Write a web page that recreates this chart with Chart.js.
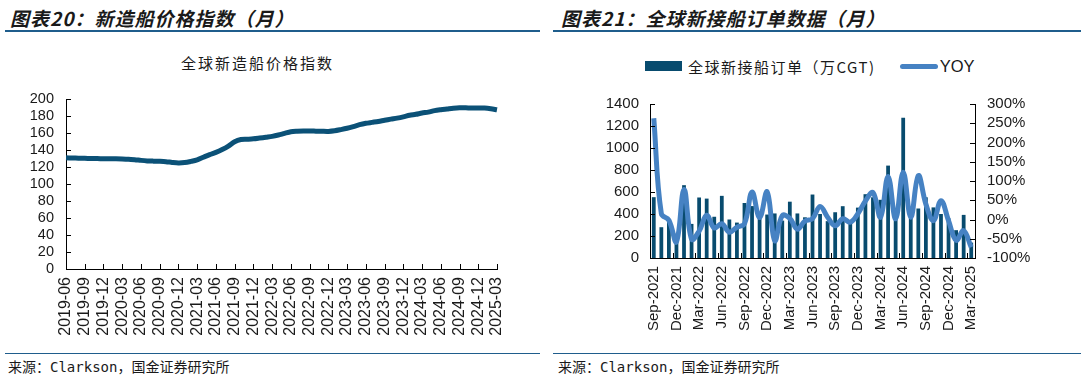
<!DOCTYPE html>
<html>
<head>
<meta charset="utf-8">
<script src="https://cdn.jsdelivr.net/npm/chart.js@4.4.1/dist/chart.umd.min.js"></script>
<style>
  body { margin: 0; background: #fff; width: 1086px; height: 378px; overflow: hidden; position: relative; font-family: "Liberation Sans", Arial, sans-serif; }
  .hdr { position: absolute; top: 4px; font-family: "Noto Sans CJK SC", sans-serif; font-weight: 700; font-style: italic; font-size: 19px; color: #1a1a1a; letter-spacing: 1px; }
  .hline { position: absolute; top: 30px; height: 2px; background: #1f5d8c; }
  .fline { position: absolute; top: 353px; height: 1px; background: #1f5d8c; }
  .src { position: absolute; top: 356px; font-family: "DejaVu Sans Mono", "Noto Sans CJK SC", monospace; font-size: 14px; color: #1a1a1a; }
  .ctitle { position: absolute; top: 52px; left: 0; width: 515px; text-align: center; font-family: "Noto Sans CJK SC", sans-serif; font-size: 15px; letter-spacing: 2px; color: #1a1a1a; }
  .chart { position: absolute; top: 40px; }
  .legend { position: absolute; top: 55px; left: 645px; height: 22px; display: flex; align-items: center; color: #1a1a1a; }
  .sw-bar { width: 37px; height: 10px; background: #084b6e; margin-right: 6px; }
  .sw-line { width: 38px; height: 5px; border-radius: 3px; background: #4682c3; margin-left: 24px; margin-right: 2px; }
  .lg1 { font-family: "Noto Sans CJK SC", sans-serif; font-size: 15px; letter-spacing: 1.5px; }
  .lg2 { font-size: 16.5px; }
</style>
</head>
<body>
<div class="hdr" style="left:10px;">图表20：新造船价格指数（月）</div>
<div class="hline" style="left:5px; width:535px;"></div>
<div class="hdr" style="left:561px;">图表21：全球新接船订单数据（月）</div>
<div class="hline" style="left:553px; width:528px;"></div>

<div class="ctitle">全球新造船价格指数</div>
<canvas id="priceChart" class="chart" style="left:0px;" width="543" height="300"></canvas>

<div class="legend">
  <div class="sw-bar"></div><span class="lg1">全球新接船订单（万CGT)</span>
  <div class="sw-line"></div><span class="lg2">YOY</span>
</div>
<canvas id="orderChart" class="chart" style="left:543px;" width="543" height="300"></canvas>

<div class="fline" style="left:5px; width:535px;"></div>
<div class="src" style="left:8px;">来源：Clarkson，国金证券研究所</div>
<div class="fline" style="left:553px; width:528px;"></div>
<div class="src" style="left:558px;">来源：Clarkson，国金证券研究所</div>

<script>
// 新造船价格指数 (月度, 2019-06 ~ 2025-03)
const priceMonths = [
  '2019-06','2019-07','2019-08','2019-09','2019-10','2019-11','2019-12',
  '2020-01','2020-02','2020-03','2020-04','2020-05','2020-06','2020-07','2020-08','2020-09','2020-10','2020-11','2020-12',
  '2021-01','2021-02','2021-03','2021-04','2021-05','2021-06','2021-07','2021-08','2021-09','2021-10','2021-11','2021-12',
  '2022-01','2022-02','2022-03','2022-04','2022-05','2022-06','2022-07','2022-08','2022-09','2022-10','2022-11','2022-12',
  '2023-01','2023-02','2023-03','2023-04','2023-05','2023-06','2023-07','2023-08','2023-09','2023-10','2023-11','2023-12',
  '2024-01','2024-02','2024-03','2024-04','2024-05','2024-06','2024-07','2024-08','2024-09','2024-10','2024-11','2024-12',
  '2025-01','2025-02','2025-03'
];
const priceIndex = [
  130.8, 130.6, 130.4, 130.2, 130.0, 129.9, 129.8,
  129.7, 129.7, 129.5, 129.0, 128.6, 127.8, 127.2, 126.9, 126.7, 126.3, 125.4, 124.8,
  125.2, 126.6, 128.4, 131.5, 134.6, 137.2, 140.5, 144.6, 149.8, 152.4, 152.7, 153.1,
  154.0, 155.0, 156.0, 157.6, 159.6, 161.4, 162.0, 162.3, 162.4, 162.2, 162.0, 161.9,
  162.6, 164.0, 165.6, 167.6, 169.8, 171.4, 172.5, 173.6, 175.0, 176.3, 177.5, 179.0,
  180.8, 182.0, 183.5, 184.6, 186.3, 187.4, 188.3, 189.2, 189.7, 189.6, 189.4, 189.5,
  189.4, 188.6, 187.3
];

// 全球新接船订单 (月度, Sep-2021 ~ Mar-2025)
const orderMonths = [
  'Sep-2021','Oct-2021','Nov-2021','Dec-2021','Jan-2022','Feb-2022','Mar-2022','Apr-2022','May-2022','Jun-2022',
  'Jul-2022','Aug-2022','Sep-2022','Oct-2022','Nov-2022','Dec-2022','Jan-2023','Feb-2023','Mar-2023','Apr-2023',
  'May-2023','Jun-2023','Jul-2023','Aug-2023','Sep-2023','Oct-2023','Nov-2023','Dec-2023','Jan-2024','Feb-2024',
  'Mar-2024','Apr-2024','May-2024','Jun-2024','Jul-2024','Aug-2024','Sep-2024','Oct-2024','Nov-2024','Dec-2024',
  'Jan-2025','Feb-2025','Mar-2025'
];
const orderCGT = [
  553, 280, 340, 220, 662, 310, 550, 540, 375, 565,
  350, 322, 500, 472, 370, 395, 405, 340, 512, 405,
  370, 577, 400, 335, 416, 471, 325, 458, 580, 552,
  529, 840, 400, 1275, 380, 450, 552, 460, 400, 362,
  253, 392, 140
];
const orderYoy = [
  263, 15, -2, -58, 78, -51, -30, 11, -22, -11,
  -33, -20, -11, 71, 5, 72, -55, 10, 3, -25,
  -4, 2, 34, 6, -16, 2, -7, 15, 48, 70,
  6, 112, 2, 123, 6, 114, 40, -3, 49, -3,
  -54, -29, -72
];

const tickFont = { family: '"Liberation Sans", Arial, sans-serif', size: 14.5 };
const xFont = { family: '"Liberation Sans", Arial, sans-serif', size: 16 };
const textColor = '#1a1a1a';

// Ticks nach innen zeichnen (wie im Original)
const innerTicks = {
  id: 'innerTicks',
  afterDraw(chart, args, opts) {
    const ctx = chart.ctx;
    const area = chart.chartArea;
    const len = 5;
    ctx.save();
    ctx.strokeStyle = '#000';
    ctx.lineWidth = 1;
    ctx.beginPath();
    const x = chart.scales.x;
    const n = chart.data.labels.length;
    if (opts.boundary) {
      const half = (x.getPixelForValue(1) - x.getPixelForValue(0)) / 2;
      for (let i = 0; i <= n; i += 3) {
        const px = Math.round(x.getPixelForValue(i) - half) + 0.5;
        ctx.moveTo(px, area.bottom);
        ctx.lineTo(px, area.bottom - len);
      }
    } else {
      for (let i = 0; i < n; i += 3) {
        const px = Math.round(x.getPixelForValue(i)) + 0.5;
        ctx.moveTo(px, area.bottom);
        ctx.lineTo(px, area.bottom - len);
      }
    }
    const y = chart.scales.y;
    y.ticks.forEach(t => {
      const py = Math.round(y.getPixelForValue(t.value)) + 0.5;
      ctx.moveTo(area.left, py);
      ctx.lineTo(area.left + len, py);
    });
    if (chart.scales.y1) {
      const y1 = chart.scales.y1;
      y1.ticks.forEach(t => {
        const py = Math.round(y1.getPixelForValue(t.value)) + 0.5;
        ctx.moveTo(area.right, py);
        ctx.lineTo(area.right - len, py);
      });
    }
    ctx.stroke();
    ctx.restore();
  }
};

// Linkes Diagramm: Preisindex
new Chart(document.getElementById('priceChart').getContext('2d'), {
  type: 'line',
  data: {
    labels: priceMonths,
    datasets: [{
      label: '全球新造船价格指数',
      data: priceIndex,
      borderColor: '#0b5177',
      borderWidth: 5,
      pointRadius: 0,
      tension: 0.3,
      fill: false
    }]
  },
  options: {
    responsive: false,
    animation: false,
    layout: { padding: { top: 59, right: 46, left: 0, bottom: 0 } },
    plugins: { legend: { display: false }, tooltip: { enabled: false }, innerTicks: { boundary: false } },
    scales: {
      x: {
        offset: false,
        grid: { display: false, drawTicks: false },
        border: { display: true, color: '#000', width: 1 },
        ticks: {
          autoSkip: false,
          maxRotation: 90,
          minRotation: 90,
          padding: 8,
          color: textColor,
          font: xFont,
          callback: function(val, idx) { return idx % 3 === 0 ? this.getLabelForValue(val) : ''; }
        },
        afterFit(scale) { scale.height = 71; }
      },
      y: {
        min: 0,
        max: 200,
        grid: { display: false, drawTicks: false },
        border: { display: true, color: '#000', width: 1 },
        ticks: { stepSize: 20, autoSkip: false, padding: 12, color: textColor, font: tickFont, callback: v => String(v) },
        afterFit(scale) { scale.width = 66; }
      }
    }
  },
  plugins: [innerTicks]
});

// Rechtes Diagramm: Neuaufträge + YOY
const orderFont = { family: '"Liberation Sans", Arial, sans-serif', size: 15 };
new Chart(document.getElementById('orderChart').getContext('2d'), {
  type: 'bar',
  data: {
    labels: orderMonths,
    datasets: [{
      type: 'line',
      label: 'YOY',
      data: orderYoy,
      yAxisID: 'y1',
      borderColor: '#4682c3',
      borderWidth: 5,
      pointRadius: 0,
      tension: 0.4,
      order: 0
    }, {
      type: 'bar',
      label: '全球新接船订单（万CGT)',
      data: orderCGT,
      yAxisID: 'y',
      backgroundColor: '#084b6e',
      categoryPercentage: 1.0,
      barPercentage: 0.5,
      order: 1
    }]
  },
  options: {
    responsive: false,
    animation: false,
    layout: { padding: { top: 64, right: 0, left: 0, bottom: 0 } },
    plugins: { legend: { display: false }, tooltip: { enabled: false }, innerTicks: { boundary: true } },
    scales: {
      x: {
        grid: { display: false, drawTicks: false },
        border: { display: true, color: '#000', width: 1 },
        ticks: {
          autoSkip: false,
          maxRotation: 90,
          minRotation: 90,
          padding: 8,
          color: textColor,
          font: orderFont,
          callback: function(val, idx) { return idx % 3 === 0 ? this.getLabelForValue(val) : ''; }
        },
        afterFit(scale) { scale.height = 82; }
      },
      y: {
        position: 'left',
        min: 0,
        max: 1400,
        grid: { display: false, drawTicks: false },
        border: { display: true, color: '#000', width: 1 },
        ticks: { stepSize: 200, autoSkip: false, padding: 11, color: textColor, font: orderFont, callback: v => String(v) },
        afterFit(scale) { scale.width = 107; }
      },
      y1: {
        position: 'right',
        min: -100,
        max: 300,
        grid: { display: false, drawTicks: false },
        border: { display: true, color: '#000', width: 1 },
        ticks: { stepSize: 50, autoSkip: false, padding: 12, color: textColor, font: orderFont, callback: v => v + '%' },
        afterFit(scale) { scale.width = 111; }
      }
    }
  },
  plugins: [innerTicks]
});
</script>
</body>
</html>
